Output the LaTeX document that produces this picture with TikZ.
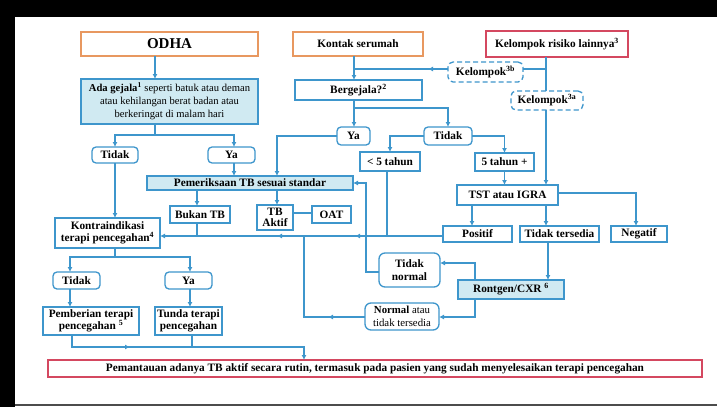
\documentclass[tikz,border=0pt]{standalone}
\usepackage{fontspec}
\setmainfont{Liberation Serif}
\usetikzlibrary{arrows.meta,decorations.markings}
\definecolor{lblue}{RGB}{62,150,204}
\definecolor{fblue}{RGB}{208,234,242}
\definecolor{orng}{RGB}{232,152,96}
\definecolor{redb}{RGB}{212,72,96}
\begin{document}
\begin{tikzpicture}[x=1pt,y=-1pt,
  every node/.style={font=\fontsize{11.3}{13}\selectfont\bfseries, align=center, inner sep=1pt, outer sep=0pt},
  bx/.style={draw=lblue, line width=1.3pt, fill=white, minimum width=#1},
  fbx/.style={bx=#1, fill=fblue},
  rbx/.style={bx=#1, rounded corners=4pt},
  dbx/.style={bx=#1, rounded corners=5pt, dashed, dash pattern=on 5pt off 3pt},
  obx/.style={draw=orng, line width=1.3pt, minimum width=#1},
  redbox/.style={draw=redb, line width=1.3pt, minimum width=#1},
  ln/.style={draw=lblue, line width=1.4pt},
  arr/.style={ln, -{Latex[length=5pt,width=5pt]}},
  tipmark/.style={decoration={markings, mark=at position #1 with {\arrow{Latex[length=5pt,width=5pt]}}}, postaction={decorate}}
]
\useasboundingbox (0,0) rectangle (717,407);
\fill[white] (0,0) rectangle (717,407);
\fill[black] (0,0) rectangle (717,17);
\fill[black] (0,0) rectangle (15,407);
\draw[black!70, line width=2pt] (15,404.5) -- (717,404.5);

% nodes
\node[obx=177pt, minimum height=24pt, font=\fontsize{15}{17}\selectfont\bfseries] (odha) at (169.5,44) {ODHA};
\node[obx=130pt, minimum height=24pt] (kontak) at (358,44) {Kontak serumah};
\node[redbox=142pt, minimum height=26pt] (kel) at (557,44) {Kelompok risiko lainnya\textsuperscript{3}};
\node[fbx=177pt, minimum height=45pt, font=\fontsize{10.6}{13}\selectfont] (gejala) at (169.5,101.5) {\textbf{Ada gejala\textsuperscript{1}} seperti batuk atau deman\\atau kehilangan berat badan atau\\berkeringat di malam hari};
\node[dbx=75pt, minimum height=20pt] (kelb) at (485.5,72) {Kelompok\textsuperscript{3b}};
\node[dbx=72pt, minimum height=19pt] (kela) at (547,100.5) {Kelompok\textsuperscript{3a}};
\node[bx=127pt, minimum height=20pt] (berg) at (358.5,90) {Bergejala?\textsuperscript{2}};
\node[rbx=33pt, minimum height=18pt] (yab) at (353.5,136) {Ya};
\node[rbx=48pt, minimum height=18pt] (tidakb) at (448,136) {Tidak};
\node[bx=60pt, minimum height=19pt] (lt) at (390,161.5) {< 5 tahun};
\node[bx=59pt, minimum height=18pt] (ge) at (504.5,162) {5 tahun +};
\node[fbx=206pt, minimum height=14pt] (pem) at (250,183) {Pemeriksaan TB sesuai standar};
\node[rbx=46pt, minimum height=16pt] (tidaka) at (115,155) {Tidak};
\node[rbx=47pt, minimum height=16pt] (yaa) at (231.5,155) {Ya};
\node[bx=60pt, minimum height=17pt] (bukan) at (200,214.5) {Bukan TB};
\node[bx=36pt, minimum height=25pt, font=\fontsize{11.3}{11}\selectfont\bfseries] (tbak) at (275,217.5) {TB\\Aktif};
\node[bx=39pt, minimum height=17pt] (oat) at (331.5,214.5) {OAT};
\node[bx=105pt, minimum height=30pt, font=\fontsize{11.3}{12.5}\selectfont\bfseries] (kontra) at (107.5,233) {Kontraindikasi\\terapi pencegahan\textsuperscript{4}};
\node[bx=101pt, minimum height=20pt] (tst) at (507.5,195) {TST atau IGRA};
\node[bx=69pt, minimum height=16pt] (pos) at (477.5,234) {Positif};
\node[bx=79pt, minimum height=16pt] (tt) at (559.5,234) {Tidak tersedia};
\node[bx=56pt, minimum height=16pt] (neg) at (639,234) {Negatif};
\node[rbx=61pt, minimum height=34pt, rounded corners=6pt] (tnorm) at (409.5,270) {Tidak\\normal};
\node[rbx=74pt, minimum height=27pt, rounded corners=6pt, font=\fontsize{10.8}{12.5}\selectfont] (norm) at (402,316.5) {\textbf{Normal} atau\\tidak tersedia};
\node[fbx=106pt, minimum height=19pt] (ront) at (511,289.5) {Rontgen/CXR \textsuperscript{6}};
\node[rbx=47pt, minimum height=17pt] (tidakc) at (76.5,280.5) {Tidak};
\node[rbx=47pt, minimum height=17pt] (yac) at (188.5,280.5) {Ya};
\node[bx=96pt, minimum height=28pt, font=\fontsize{11.3}{12.5}\selectfont\bfseries] (pemb) at (91,321) {Pemberian terapi\\pencegahan \textsuperscript{5}};
\node[bx=67pt, minimum height=28pt, font=\fontsize{11.3}{12.5}\selectfont\bfseries] (tunda) at (188.5,321) {Tunda terapi\\pencegahan};
\node[redbox=654pt, minimum height=17pt] (pemant) at (375,368.5) {Pemantauan adanya TB aktif secara rutin, termasuk pada pasien yang sudah menyelesaikan terapi pencegahan};

% connectors
\draw[arr] (odha.south -| 155,0) -- (gejala.north -| 155,0);
\draw[arr] (kontak.south -| 354,0) -- (berg.north -| 354,0);
\draw[ln] (kel.south -| 546,0) -- (kela.north -| 546,0);
\draw[arr] (kela.south -| 546,0) -- (tst.north -| 546,0);
\draw[ln] (kelb.east |- 0,69) -- (546,69);
\draw[ln, tipmark=20pt] (kelb.west |- 0,69) -- (354,69);

\draw[arr] (berg.south -| 354,0) -- (yab.north -| 354,0);
\draw[arr] (354,108) -| (tidakb.north);
\draw[arr] (yab.west) -| (pem.north -| 277,0);
\draw[arr] (tidakb.west) -| (lt.north);
\draw[arr] (tidakb.east) -| (ge.north);
\draw[arr] (ge.south) -- (tst.north -| ge.south);
\draw[arr] (tst.south -| 472,0) -- (pos.north -| 472,0);
\draw[arr] (tst.south -| 546,0) -- (tt.north -| 546,0);
\draw[arr] (tst.east |- 0,193) -| (neg.north -| 636,0);
\draw[arr] (tt.south -| 548,0) -- (ront.north -| 548,0);
\draw[arr] (ront.north -| 475,0) |- (tnorm.east |- 0,263);
\draw[arr] (ront.south -| 475,0) |- (norm.east |- 0,317);
\draw[arr] (tnorm.west |- 0,272) -| (366,183) -- (pem.east);
\draw[ln, tipmark=37pt] (norm.west |- 0,317) -| (304,236);
\draw[ln] (lt.south -| 387,0) -- (387,236);
\draw[arr, decoration={markings, mark=at position 88pt with {\arrow{Latex[length=5pt,width=5pt]}}, mark=at position 166pt with {\arrow{Latex[length=5pt,width=5pt]}}}, postaction={decorate}] (pos.west |- 0,236) -- (kontra.east |- 0,236);
\draw[ln] (bukan.south -| 197,0) -- (197,236);
\draw[arr] (pem.south -| 197,0) -- (bukan.north -| 197,0);
\draw[arr] (pem.south -| 277,0) -- (tbak.north -| 277,0);
\draw[ln] (tbak.east |- 0,213) -- (oat.west |- 0,213);

\draw[ln] (gejala.south -| 155,0) -- (155,135);
\draw[arr] (155,135) -| (tidaka.north);
\draw[arr] (155,135) -| (yaa.north -| 234,0);
\draw[arr] (yaa.south -| 234,0) -- (pem.north -| 234,0);
\draw[arr] (tidaka.south) -- (kontra.north -| tidaka.south);
\draw[ln] (kontra.south -| 115,0) -- (115,257);
\draw[arr] (115,257) -| (tidakc.north -| 70,0);
\draw[arr] (115,257) -| (yac.north -| 190,0);
\draw[arr] (tidakc.south -| 70,0) -- (pemb.north -| 70,0);
\draw[arr] (yac.south -| 190,0) -- (tunda.north -| 190,0);
\draw[arr, tipmark=70pt] (pemb.south -| 72,0) |- (304,347) -- (pemant.north -| 304,0);
\draw[ln] (tunda.south -| 192,0) -- (192,347);
\end{tikzpicture}
\end{document}
